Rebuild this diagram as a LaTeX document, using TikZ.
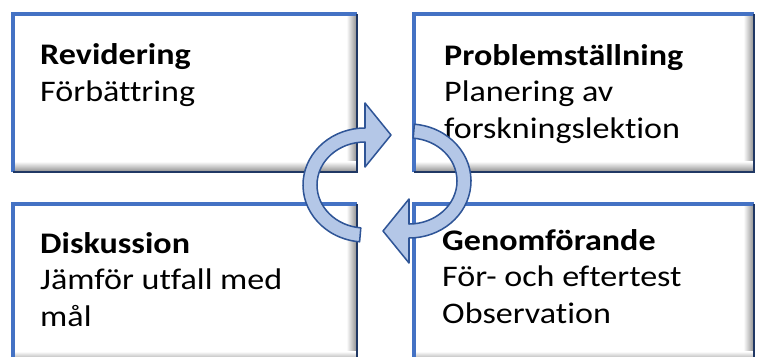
\documentclass[tikz,border=0pt]{standalone}
\usepackage{fontspec}
\setmainfont{Carlito}[FakeStretch=1.14, Ligatures=NoCommon]
\usetikzlibrary{positioning, calc}
\definecolor{BoxBlue}{RGB}{68, 114, 196}
\definecolor{EdgeNavy}{RGB}{32, 56, 100}
\definecolor{ArrowFill}{RGB}{180, 199, 231}
\definecolor{ArrowLine}{RGB}{47, 85, 151}
\definecolor{BevelGray}{RGB}{140, 140, 140}

\begin{document}
\begin{tikzpicture}[
        x=0.03cm, y=-0.03cm,
        stage/.style={fill=white, outer sep=0pt, minimum width=10.32cm, minimum height=4.74cm, anchor=north west},
        stagetext/.style={anchor=base west, inner sep=0pt, align=left, font=\fontsize{25.5}{31}\selectfont},
        turnarrow/.style={draw=ArrowLine, fill=ArrowFill, line width=1.3pt, line join=round}
    ]
        \path[use as bounding box, clip] (0,0) rectangle (757,356);

        % the four stages of the cycle
        \node[stage] (rev) at (13,14) {};
        \node[stage, minimum width=10.2cm] (prob) at (414,14) {};
        \node[stage] (disk) at (13,204) {};
        \node[stage, minimum width=10.2cm] (genom) at (414,204) {};

        % bevelled frames
        \foreach \b in {rev,prob,disk,genom} {
            \shade[left color=white, right color=BevelGray] ([xshift=-9pt]\b.north east) rectangle (\b.south east);
            \shade[top color=white, bottom color=BevelGray] ([yshift=9pt]\b.south west) rectangle (\b.south east);
            \draw[BoxBlue, line width=2.6pt] (\b.south west) -- (\b.north west) -- (\b.north east);
            \draw[EdgeNavy, line width=1.4pt] (\b.north east) -- (\b.south east) -- (\b.south west);
        }

        \node[stagetext] (revtxt) at ([shift={(27,87)}]rev.north west) {\textbf{Revidering}\\Förbättring};
        \node[stagetext] (probtxt) at ([shift={(30,124)}]prob.north west) {\textbf{Problemställning}\\Planering av\\forskningslektion};
        \node[stagetext] (disktxt) at ([shift={(27,122)}]disk.north west) {\textbf{Diskussion}\\Jämför utfall med\\mål};
        \node[stagetext] (genomtxt) at ([shift={(28,119)}]genom.north west) {\textbf{Genomförande}\\För- och eftertest\\Observation};

        % circular arrows in the middle
        \draw[turnarrow] (365,185) ++(95:62 and 57) arc[start angle=95, end angle=270, x radius=62, y radius=57]
            -- (365,103) -- (391,135) -- (365,167) -- (365,142)
            arc[start angle=270, end angle=95, x radius=48, y radius=43] -- cycle;
        \draw[turnarrow, rotate around={180:(387,183)}] (365,185) ++(95:62 and 57) arc[start angle=95, end angle=270, x radius=62, y radius=57]
            -- (365,103) -- (391,135) -- (365,167) -- (365,142)
            arc[start angle=270, end angle=95, x radius=48, y radius=43] -- cycle;
    \end{tikzpicture}
\end{document}
